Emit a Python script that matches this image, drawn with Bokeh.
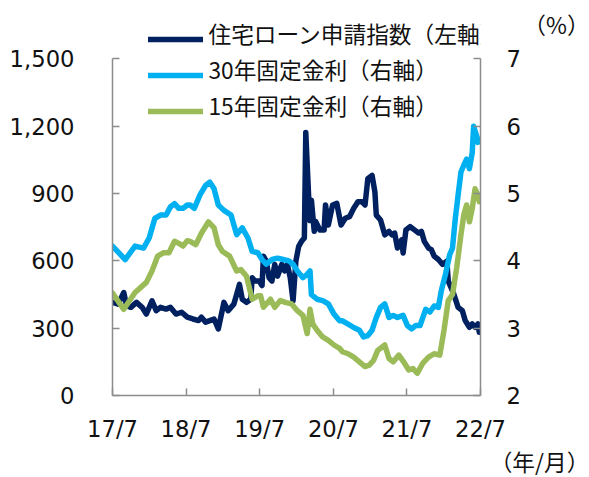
import numpy as np
import pandas as pd
from bokeh.plotting import figure
from bokeh.models import (Range1d, LinearAxis, FixedTicker, NumeralTickFormatter,
                          Legend, LegendItem, Label)
from bokeh.embed import file_html
from bokeh.resources import INLINE

# ---------------- data (weeks since 2017-07-01) ----------------
START = "2017-07-01"
x_tick_dates = ["2017-07-01", "2018-07-01", "2019-07-01", "2020-07-01", "2021-07-01", "2022-07-01"]
x_tick_labels = ["17/7", "18/7", "19/7", "20/7", "21/7", "22/7"]
left_ticks = [0, 300, 600, 900, 1200, 1500]
right_ticks = [2, 3, 4, 5, 6, 7]

navy_label = "住宅ローン申請指数（左軸）"
blue_label = "30年固定金利（右軸）"
green_label = "15年固定金利（右軸）"
unit_right = "（%）"
unit_x = "（年/月）"

navy_weeks = [0, 4, 8, 10, 13, 17, 21, 24, 28, 31, 34, 38, 41, 45, 49, 53, 57, 61, 63, 66,
              69, 72, 75, 79, 82, 86, 90, 92, 95, 98, 99, 101, 104, 106, 107, 109, 111, 113, 115, 117,
              120, 122, 124, 126, 128, 130, 132, 134, 136, 137, 139, 140, 141, 143, 144, 147, 150, 151, 153, 156,
              159, 162, 165, 168, 171, 174, 177, 179, 181, 184, 186, 187, 190, 193, 196, 198, 200, 202, 205, 206,
              208, 211, 214, 217, 219, 221, 224, 226, 228, 231, 234, 237, 238, 240, 242, 245, 248, 250, 253, 255,
              257, 259, 260]
navy_values = [415, 407, 459, 400, 393, 415, 393, 363, 422, 378, 393, 385, 393, 363, 371, 349, 341, 334, 349, 327,
               334, 341, 297, 415, 378, 407, 495, 429, 415, 429, 525, 510, 510, 490, 621, 599, 525, 510, 584, 532,
               584, 555, 584, 525, 422, 599, 665, 687, 702, 1172, 893, 780, 870, 732, 775, 738, 738, 849, 760, 849,
               856, 760, 790, 797, 834, 863, 863, 849, 966, 981, 907, 804, 782, 716, 731, 716, 724, 657, 694, 635,
               738, 753, 738, 724, 731, 687, 657, 650, 621, 606, 584, 599, 510, 481, 451, 393, 378, 334, 304, 319,
               304, 319, 282]

blue_weeks = [0, 9, 16, 22, 26, 30, 34, 38, 41, 44, 47, 50, 53, 55, 58, 62, 66, 69, 72, 75,
              79, 84, 88, 92, 96, 99, 103, 106, 109, 113, 117, 121, 125, 128, 131, 135, 138, 140, 141, 145,
              149, 153, 157, 159, 161, 163, 167, 171, 175, 178, 181, 184, 187, 190, 193, 196, 199, 202, 206, 209,
              212, 215, 218, 222, 225, 228, 231, 233, 236, 239, 241, 243, 245, 247, 249, 251, 253, 255, 256, 258,
              259, 260]
blue_values = [4.22, 4.02, 4.22, 4.19, 4.34, 4.63, 4.68, 4.68, 4.80, 4.85, 4.78, 4.78, 4.83, 4.83, 4.78, 4.98, 5.12, 5.17, 5.07, 4.83,
               4.75, 4.68, 4.39, 4.49, 4.34, 4.14, 4.12, 4.02, 3.95, 4.02, 4.04, 4.02, 4.00, 3.95, 3.85, 3.75, 3.80, 3.85, 3.50, 3.43,
               3.41, 3.36, 3.21, 3.16, 3.11, 3.11, 3.06, 3.01, 2.97, 2.87, 2.89, 2.97, 3.16, 3.31, 3.36, 3.16, 3.19, 3.16, 3.19, 3.04,
               2.99, 3.04, 3.04, 3.28, 3.24, 3.33, 3.31, 3.55, 3.80, 4.09, 4.19, 4.63, 4.98, 5.32, 5.42, 5.51, 5.37, 5.61, 6.00, 5.86,
               5.76, 5.81]

green_weeks = [0, 8, 16, 24, 28, 32, 36, 40, 44, 47, 50, 53, 55, 59, 63, 68, 72, 75, 78, 83,
               88, 91, 95, 99, 103, 105, 107, 112, 115, 119, 123, 127, 131, 135, 138, 140, 142, 145, 149, 153,
               157, 161, 163, 167, 171, 175, 179, 182, 185, 188, 193, 196, 199, 203, 207, 210, 213, 216, 220, 224,
               228, 232, 235, 238, 241, 244, 247, 249, 251, 253, 255, 257, 259, 260]
green_values = [3.52, 3.28, 3.53, 3.68, 3.85, 4.07, 4.12, 4.12, 4.29, 4.26, 4.22, 4.30, 4.29, 4.24, 4.41, 4.58, 4.49, 4.24, 4.14, 4.07,
                3.85, 3.87, 3.77, 3.43, 3.48, 3.48, 3.31, 3.43, 3.31, 3.41, 3.38, 3.36, 3.26, 3.19, 2.92, 3.28, 3.06, 2.97, 2.87, 2.82,
                2.75, 2.70, 2.65, 2.62, 2.57, 2.50, 2.43, 2.45, 2.52, 2.67, 2.75, 2.55, 2.50, 2.60, 2.48, 2.38, 2.40, 2.33, 2.48, 2.57,
                2.62, 2.60, 2.97, 3.41, 3.50, 3.90, 4.39, 4.68, 4.83, 4.58, 4.78, 5.07, 4.98, 4.88]

NAVY = "#002060"
BLUE = "#00B0F0"
GREEN = "#9BBB59"
AXIS_GRAY = "#8C8C8C"
TEXT = "#111111"
FONT_NUM = "DejaVu Sans"
FONT_JP = "Noto Sans CJK JP"
FSIZE = "22.7px"
LW = 5.5

# ---------------- layout (pixels) ----------------
W, H = 589, 477
FRAME_L, FRAME_R, FRAME_B = 112, 548, 399
AXIS_TOP = 59                         # where 1,500 / 7 sit; frame extends above for legend
head = FRAME_B / (FRAME_B - AXIS_TOP)  # extra headroom factor


def weeks_to_ms(weeks):
    d = pd.Timestamp(START) + pd.to_timedelta(np.asarray(weeks) * 7, unit="D")
    return d.values.astype("datetime64[ms]").astype("int64")


tick_ms = [int(v) for v in pd.to_datetime(x_tick_dates).values.astype("datetime64[ms]").astype("int64")]

p = figure(width=W, height=H, output_backend="svg", toolbar_location=None,
           x_range=Range1d(tick_ms[0], tick_ms[-1]),
           y_range=Range1d(left_ticks[0], left_ticks[0] + (left_ticks[-1] - left_ticks[0]) * head),
           min_border_left=FRAME_L, min_border_right=W - FRAME_R,
           min_border_top=0, min_border_bottom=H - FRAME_B)
p.extra_y_ranges = {"pct": Range1d(right_ticks[0],
                                   right_ticks[0] + (right_ticks[-1] - right_ticks[0]) * head)}
p.outline_line_color = None
p.grid.visible = False
p.background_fill_color = "white"
p.border_fill_color = "white"

r_navy = p.line(weeks_to_ms(navy_weeks), navy_values, line_color=NAVY, line_width=LW,
                line_join="round", line_cap="round")
r_blue = p.line(weeks_to_ms(blue_weeks), blue_values, y_range_name="pct", line_color=BLUE,
                line_width=LW, line_join="round", line_cap="round")
r_green = p.line(weeks_to_ms(green_weeks), green_values, y_range_name="pct", line_color=GREEN,
                 line_width=LW, line_join="round", line_cap="round")

# axes
p.xaxis.ticker = FixedTicker(ticks=tick_ms)
p.xaxis.major_label_overrides = {t: l for t, l in zip(tick_ms, x_tick_labels)}
p.yaxis.ticker = FixedTicker(ticks=left_ticks)
p.yaxis.formatter = NumeralTickFormatter(format="0,0")
p.yaxis.bounds = (left_ticks[0], left_ticks[-1])
ax_r = LinearAxis(y_range_name="pct", ticker=FixedTicker(ticks=right_ticks),
                  bounds=(right_ticks[0], right_ticks[-1]))
p.add_layout(ax_r, "right")

for ax in [p.xaxis[0], p.yaxis[0], ax_r]:
    ax.axis_line_color = AXIS_GRAY
    ax.axis_line_width = 1.5
    ax.major_tick_line_color = AXIS_GRAY
    ax.major_tick_line_width = 1.5
    ax.major_tick_in = 7
    ax.major_tick_out = 0
    ax.minor_tick_line_color = None
    ax.major_label_text_font = FONT_NUM
    ax.major_label_text_font_size = FSIZE
    ax.major_label_text_color = TEXT
p.yaxis[0].major_label_standoff = 38
ax_r.major_label_standoff = 26
p.xaxis[0].major_label_standoff = 20

# legend: line samples via Legend, label texts as Labels; rows centred at y = 33, 69, 105 px
ITEM_H = 42
for i, (lab, rend) in enumerate([(navy_label, r_navy), (blue_label, r_blue), (green_label, r_green)]):
    cy = 33 + 36 * i
    lg = Legend(items=[LegendItem(label=" ", renderers=[rend])],
                location=(148 - FRAME_L, FRAME_B - cy - ITEM_H / 2),
                glyph_width=55, glyph_height=22, label_height=22,
                spacing=0, padding=0, margin=0, label_standoff=5,
                background_fill_alpha=0, border_line_alpha=0,
                label_text_font=FONT_JP, label_text_font_size=FSIZE, label_text_color=TEXT)
    p.add_layout(lg)
    p.add_layout(Label(x=208, y=cy, x_units="canvas", y_units="canvas", text=lab,
                       text_align="left", text_baseline="middle",
                       text_font=FONT_JP, text_font_size=FSIZE, text_color=TEXT))

p.add_layout(Label(x=556, y=24, x_units="canvas", y_units="canvas", text=unit_right,
                   text_align="center", text_baseline="middle",
                   text_font=FONT_JP, text_font_size=FSIZE, text_color=TEXT), "right")
p.add_layout(Label(x=539, y=461, x_units="canvas", y_units="canvas", text=unit_x,
                   text_align="center", text_baseline="middle",
                   text_font=FONT_JP, text_font_size=FSIZE, text_color=TEXT), "below")

open("out.html", "w").write(file_html(p, INLINE))
